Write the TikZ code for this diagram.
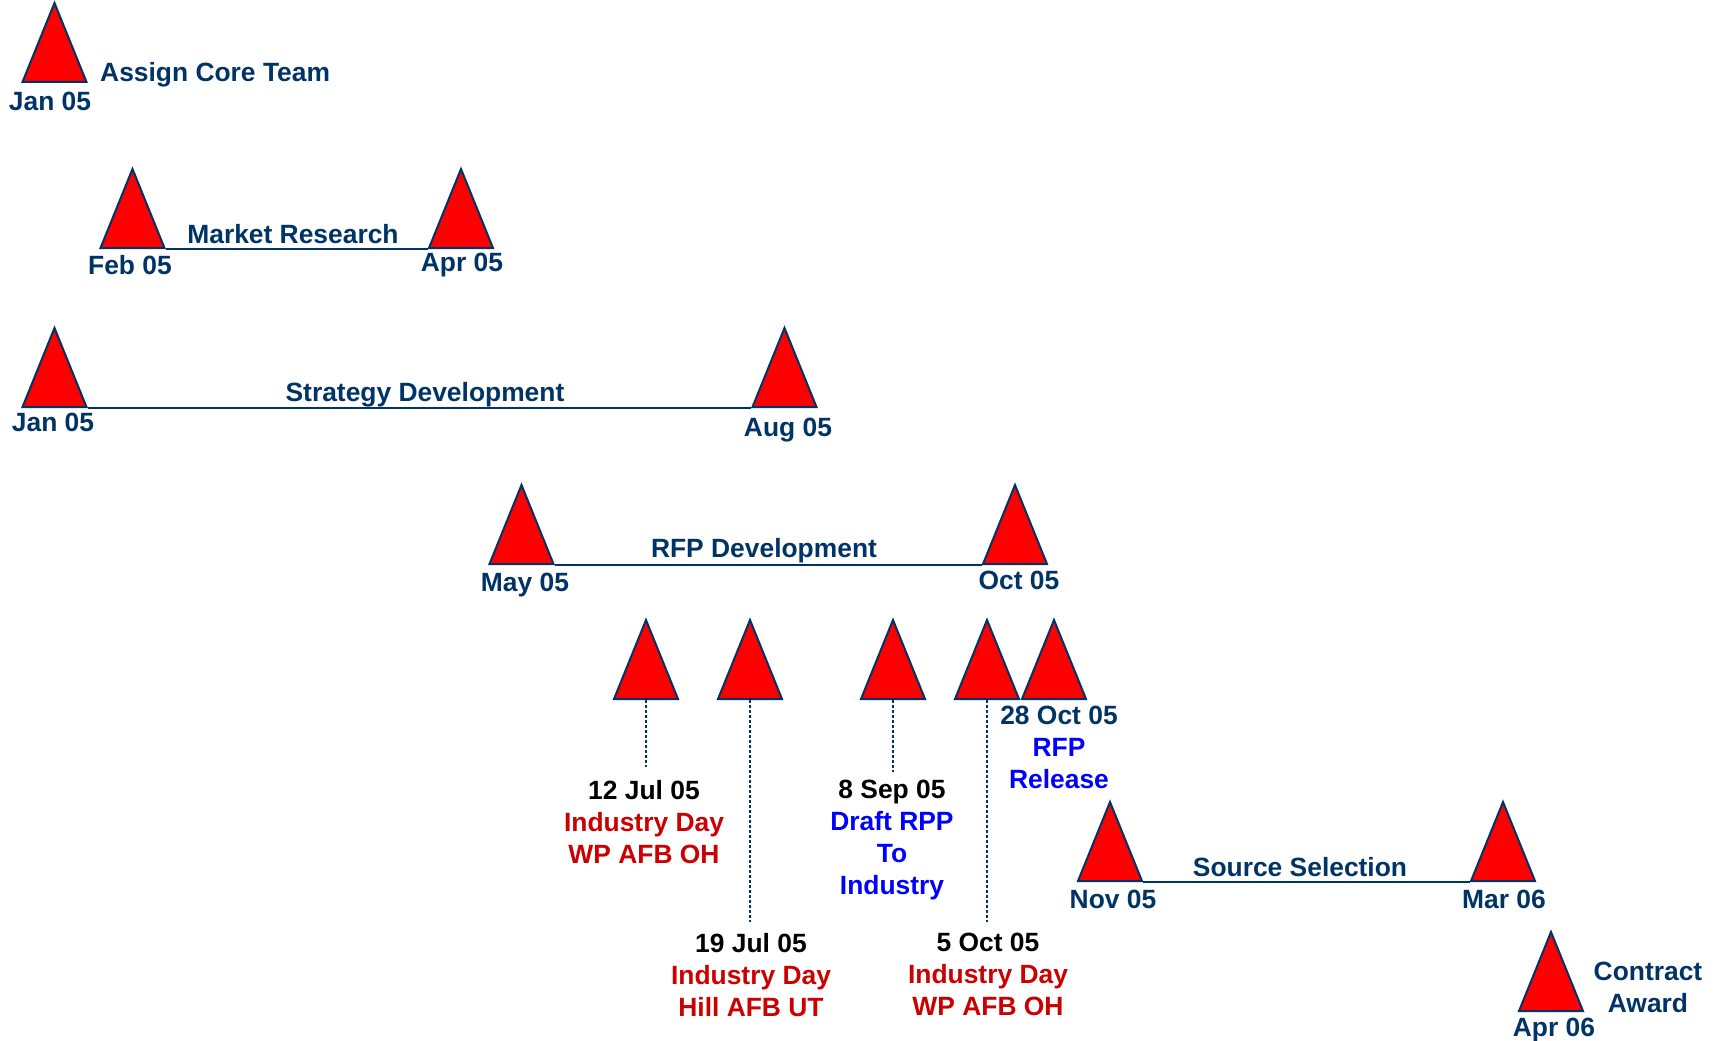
\documentclass[tikz,border=0pt]{standalone}
\usepackage{fontspec}
\setmainfont{Liberation Sans}
\usepackage{tikz}
\usetikzlibrary{shapes.geometric}
\definecolor{navy}{HTML}{003366}
\definecolor{dayred}{HTML}{CC0000}
\definecolor{rfpblue}{HTML}{0000FF}
\newcommand\linewd{2pt}
\newcommand\labelfont{\bfseries\fontsize{26.4}{32}\selectfont}

\begin{document}
\begin{tikzpicture}[x=1pt, y=-1pt,
  ms/.style={isosceles triangle, isosceles triangle stretches, shape border rotate=90,
    minimum width=64pt, minimum height=79pt, inner sep=0pt,
    draw=navy, fill=red, line width=\linewd, anchor=lower side},
  lbl/.style={anchor=north, inner sep=0pt, align=center, text=navy, font=\labelfont},
  linkline/.style={draw=navy, line width=\linewd},
  dropline/.style={draw=navy, line width=\linewd, dash pattern=on 2.5pt off 2.5pt}]
  \useasboundingbox (0, 0) rectangle (1717, 1041);
  % core team
  \draw (54.5, 83) node[ms] (core) {};
  \draw (100, 62) node[lbl, anchor=north west] (coretxt) {Assign Core Team};
  \draw (50, 92) node[lbl] (janAtxt) {Jan 05};
  % market research
  \draw (132.5, 249) node[ms] (feb) {};
  \draw (461, 249) node[ms] (aprA) {};
  \draw (293, 224) node[lbl] (mrtxt) {Market Research};
  \draw (130, 255) node[lbl] (febtxt) {Feb 05};
  \draw (462, 253) node[lbl] (aprAtxt) {Apr 05};
  \draw (feb.right corner) -- (aprA.left corner) [linkline];
  % strategy development
  \draw (54.5, 408) node[ms] (janB) {};
  \draw (784.5, 408) node[ms] (aug) {};
  \draw (425, 382) node[lbl] (sdtxt) {Strategy Development};
  \draw (53, 413) node[lbl] (janBtxt) {Jan 05};
  \draw (788, 418) node[lbl] (augtxt) {Aug 05};
  \draw (janB.right corner) -- (aug.left corner) [linkline];
  % rfp development
  \draw (521.5, 565) node[ms] (may) {};
  \draw (1015, 565) node[ms] (oct) {};
  \draw (764, 538) node[lbl] (rdtxt) {RFP Development};
  \draw (525, 573) node[lbl] (maytxt) {May 05};
  \draw (1019, 571) node[lbl] (octtxt) {Oct 05};
  \draw (may.right corner) -- (oct.left corner) [linkline];
  % industry days and releases
  \draw (646, 700) node[ms] (jul12) {};
  \draw (750, 700) node[ms] (jul19) {};
  \draw (893, 700) node[ms] (sep8) {};
  \draw (987, 700) node[ms] (oct5) {};
  \draw (1054, 700) node[ms] (oct28) {};
  \coordinate (jul12end) at (646, 767);
  \coordinate (jul19end) at (750, 922);
  \coordinate (sep8end) at (893, 772);
  \coordinate (oct5end) at (987, 922);
  \draw (jul12.lower side) -- (jul12end) [dropline];
  \draw (jul19.lower side) -- (jul19end) [dropline];
  \draw (sep8.lower side) -- (sep8end) [dropline];
  \draw (oct5.lower side) -- (oct5end) [dropline];
  \draw (644, 780) node[lbl, text=dayred] (jul12txt)
    {{\color{black}12 Jul 05}\\Industry Day\\WP AFB OH};
  \draw (751, 933) node[lbl, text=dayred] (jul19txt)
    {{\color{black}19 Jul 05}\\Industry Day\\Hill AFB UT};
  \draw (892, 780) node[lbl, text=rfpblue] (sep8txt)
    {{\color{black}8 Sep 05}\\Draft RPP\\To\\Industry};
  \draw (988, 933) node[lbl, text=dayred] (oct5txt)
    {{\color{black}5 Oct 05}\\Industry Day\\WP AFB OH};
  \draw (1059, 706) node[lbl, text=rfpblue] (oct28txt)
    {{\color{navy}28 Oct 05}\\RFP\\Release};
  % source selection
  \draw (1110, 882) node[ms] (nov) {};
  \draw (1503, 882) node[ms] (mar) {};
  \draw (1300, 857) node[lbl] (sstxt) {Source Selection};
  \draw (1113, 890) node[lbl] (novtxt) {Nov 05};
  \draw (1504, 890) node[lbl] (martxt) {Mar 06};
  \draw (nov.right corner) -- (mar.left corner) [linkline];
  % contract award
  \draw (1551, 1012) node[ms] (aprB) {};
  \draw (1648, 962) node[lbl] (catxt) {Contract\\Award};
  \draw (1554, 1018) node[lbl] (aprBtxt) {Apr 06};
\end{tikzpicture}
\end{document}
